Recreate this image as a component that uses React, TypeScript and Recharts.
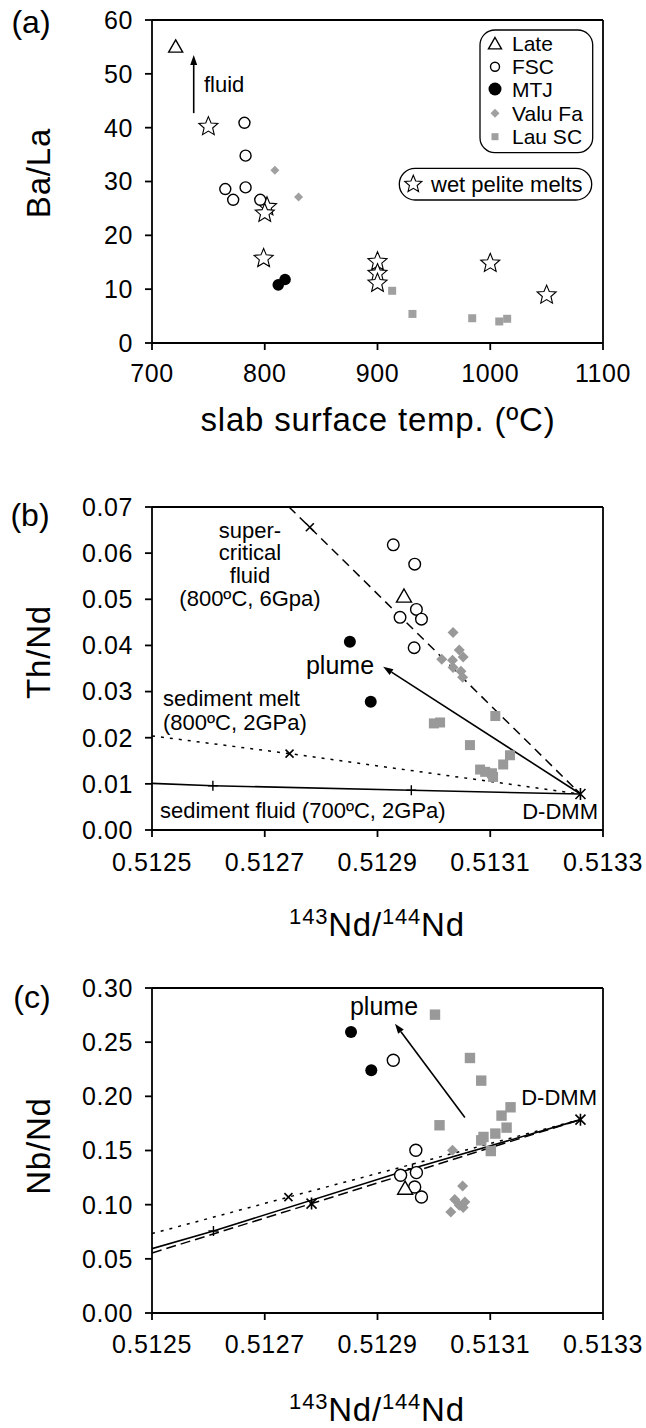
import { ReferenceLine, Scatter, ScatterChart, XAxis, YAxis } from "recharts";

const FONT = '"Liberation Sans", Arial, Helvetica, sans-serif';
const GREY = "#a0a0a0";

// ---- panel (a): Ba/La vs slab surface temperature ----
const tempTicks = [700, 800, 900, 1000, 1100];
const baLaTicks = [0, 10, 20, 30, 40, 50, 60];
const lateA = [{ x: 721, y: 55.0 }];
const fscA = [
	{ x: 782, y: 40.9 },
	{ x: 783, y: 34.8 },
	{ x: 765, y: 28.6 },
	{ x: 772, y: 26.6 },
	{ x: 783, y: 28.9 },
	{ x: 796, y: 26.6 },
];
const mtjA = [
	{ x: 812, y: 10.8 },
	{ x: 818, y: 11.8 },
];
const valuA = [
	{ x: 809, y: 32.1 },
	{ x: 830, y: 27.1 },
];
const lauA = [
	{ x: 913, y: 9.7 },
	{ x: 931, y: 5.4 },
	{ x: 984, y: 4.6 },
	{ x: 1008, y: 4.0 },
	{ x: 1015, y: 4.5 },
];
const peliteA = [
	{ x: 750, y: 40.2 },
	{ x: 802, y: 25.3 },
	{ x: 800, y: 24.1 },
	{ x: 799, y: 15.7 },
	{ x: 900, y: 15.1 },
	{ x: 900, y: 12.9 },
	{ x: 900, y: 11.1 },
	{ x: 1000, y: 14.8 },
	{ x: 1050, y: 8.9 },
];
const fluidArrowA = [
	{ x: 737, y: 42.7 },
	{ x: 737, y: 53.5 },
];

// ---- shared Nd isotope axis ----
const ndTicks = [0.5125, 0.5127, 0.5129, 0.5131, 0.5133];

// ---- panel (b): Th/Nd ----
const thNdTicks = [0, 0.01, 0.02, 0.03, 0.04, 0.05, 0.06, 0.07];
const lateB = [{ x: 0.512947, y: 0.0506 }];
const fscB = [
	{ x: 0.512928, y: 0.0618 },
	{ x: 0.512966, y: 0.0576 },
	{ x: 0.512969, y: 0.0478 },
	{ x: 0.51294, y: 0.0461 },
	{ x: 0.512978, y: 0.0457 },
	{ x: 0.512965, y: 0.0395 },
];
const mtjB = [
	{ x: 0.512851, y: 0.0408 },
	{ x: 0.512888, y: 0.0278 },
];
const valuB = [
	{ x: 0.513034, y: 0.0428 },
	{ x: 0.513014, y: 0.037 },
	{ x: 0.513033, y: 0.0368 },
	{ x: 0.513045, y: 0.039 },
	{ x: 0.513052, y: 0.0375 },
	{ x: 0.513034, y: 0.0352 },
	{ x: 0.513048, y: 0.0344 },
	{ x: 0.513051, y: 0.0331 },
];
const lauB = [
	{ x: 0.513109, y: 0.0247 },
	{ x: 0.513, y: 0.0231 },
	{ x: 0.513011, y: 0.0233 },
	{ x: 0.513064, y: 0.0184 },
	{ x: 0.513135, y: 0.0162 },
	{ x: 0.513123, y: 0.0142 },
	{ x: 0.513082, y: 0.0131 },
	{ x: 0.513091, y: 0.0126 },
	{ x: 0.513103, y: 0.0123 },
	{ x: 0.513105, y: 0.0115 },
];
const superFluidB = [
	{ x: 0.512743, y: 0.07 },
	{ x: 0.51278, y: 0.0656 },
	{ x: 0.51326, y: 0.0078 },
];
const sedMeltB = [
	{ x: 0.5125, y: 0.0204 },
	{ x: 0.512744, y: 0.01655 },
	{ x: 0.51326, y: 0.0078 },
];
const sedFluidB = [
	{ x: 0.5125, y: 0.0101 },
	{ x: 0.512608, y: 0.0096 },
	{ x: 0.51296, y: 0.0086 },
	{ x: 0.51326, y: 0.0078 },
];
const crossB = [
	{ x: 0.51278, y: 0.0656 },
	{ x: 0.512744, y: 0.01655 },
];
const plusB = [
	{ x: 0.512608, y: 0.0096 },
	{ x: 0.51296, y: 0.0086 },
];
const ddmmB = [{ x: 0.51326, y: 0.0078 }];
const plumeArrowB = [
	{ x: 0.51326, y: 0.0078 },
	{ x: 0.51291, y: 0.0354 },
];

// ---- panel (c): Nb/Nd ----
const nbNdTicks = [0, 0.05, 0.1, 0.15, 0.2, 0.25, 0.3];
const lateC = [{ x: 0.512949, y: 0.1148 }];
const fscC = [
	{ x: 0.512928, y: 0.2333 },
	{ x: 0.512968, y: 0.1502 },
	{ x: 0.512941, y: 0.1271 },
	{ x: 0.512969, y: 0.1296 },
	{ x: 0.512966, y: 0.1163 },
	{ x: 0.512978, y: 0.1071 },
];
const mtjC = [
	{ x: 0.512853, y: 0.2594 },
	{ x: 0.512889, y: 0.224 },
];
const valuC = [
	{ x: 0.513033, y: 0.1502 },
	{ x: 0.513051, y: 0.1173 },
	{ x: 0.513037, y: 0.1047 },
	{ x: 0.513055, y: 0.1025 },
	{ x: 0.51303, y: 0.0932 },
	{ x: 0.513052, y: 0.0973 },
	{ x: 0.513045, y: 0.0995 },
];
const lauC = [
	{ x: 0.513002, y: 0.2754 },
	{ x: 0.513064, y: 0.2354 },
	{ x: 0.513084, y: 0.2145 },
	{ x: 0.51301, y: 0.1733 },
	{ x: 0.513136, y: 0.1899 },
	{ x: 0.51312, y: 0.1822 },
	{ x: 0.513129, y: 0.1711 },
	{ x: 0.513088, y: 0.1625 },
	{ x: 0.513109, y: 0.1656 },
	{ x: 0.513084, y: 0.1594 },
	{ x: 0.513101, y: 0.1495 },
];
const sedMeltC = [
	{ x: 0.5125, y: 0.0733 },
	{ x: 0.512742, y: 0.107 },
	{ x: 0.51326, y: 0.1785 },
];
const sedFluidC = [
	{ x: 0.5125, y: 0.0594 },
	{ x: 0.512609, y: 0.0757 },
	{ x: 0.512962, y: 0.1333 },
	{ x: 0.51326, y: 0.1785 },
];
const superFluidC = [
	{ x: 0.5125, y: 0.0554 },
	{ x: 0.512783, y: 0.101 },
	{ x: 0.51326, y: 0.1785 },
];
const crossC = [{ x: 0.512742, y: 0.107 }];
const plusC = [
	{ x: 0.512609, y: 0.0757 },
	{ x: 0.512962, y: 0.1333 },
];
const asteriskC = [
	{ x: 0.512783, y: 0.101 },
	{ x: 0.51326, y: 0.1785 },
];
const plumeArrowC = [
	{ x: 0.513055, y: 0.1804 },
	{ x: 0.512931, y: 0.2671 },
];

// ---- marker shapes ----
const Empty = () => <g />;

const starPath = (cx: number, cy: number, R: number, r: number) => {
	let d = "";
	for (let i = 0; i < 10; i++) {
		const rad = i % 2 === 0 ? R : r;
		const a = -Math.PI / 2 + (i * Math.PI) / 5;
		d += (i ? "L" : "M") + (cx + rad * Math.cos(a)).toFixed(2) + "," + (cy + rad * Math.sin(a)).toFixed(2);
	}
	return d + "Z";
};

const triangle = (cx: number, cy: number, h = 7) => (
	<path
		d={`M${cx},${cy - h} L${cx + h},${cy + h * 0.75} L${cx - h},${cy + h * 0.75} Z`}
		fill="#fff"
		stroke="#000"
		strokeWidth={1.4}
	/>
);
const openCircle = (cx: number, cy: number, r: number) => (
	<circle cx={cx} cy={cy} r={r} fill="#fff" stroke="#000" strokeWidth={1.4} />
);
const dot = (cx: number, cy: number, r: number) => <circle cx={cx} cy={cy} r={r} fill="#000" />;
const diamond = (cx: number, cy: number, h: number, fill = GREY) => (
	<path d={`M${cx},${cy - h} L${cx + h},${cy} L${cx},${cy + h} L${cx - h},${cy} Z`} fill={fill} />
);
const square = (cx: number, cy: number, h: number, fill = GREY) => (
	<rect x={cx - h} y={cy - h} width={2 * h} height={2 * h} fill={fill} />
);
const star = (cx: number, cy: number, R = 10) => (
	<path d={starPath(cx, cy, R, R * 0.45)} fill="#fff" stroke="#000" strokeWidth={1.1} />
);
const cross = (cx: number, cy: number, h = 4) => (
	<path d={`M${cx - h},${cy - h}L${cx + h},${cy + h}M${cx - h},${cy + h}L${cx + h},${cy - h}`} stroke="#000" strokeWidth={1.6} />
);
const plus = (cx: number, cy: number, h = 5) => (
	<path d={`M${cx - h},${cy}L${cx + h},${cy}M${cx},${cy - h}L${cx},${cy + h}`} stroke="#000" strokeWidth={1.4} />
);
const asterisk = (cx: number, cy: number, h = 5) => (
	<path
		d={`M${cx - h},${cy - h}L${cx + h},${cy + h}M${cx - h},${cy + h}L${cx + h},${cy - h}M${cx},${cy - h - 1}L${cx},${cy + h + 1}`}
		stroke="#000"
		strokeWidth={1.6}
	/>
);

const sh = (fn: (cx: number, cy: number) => JSX.Element) => (p: any) => fn(p.cx, p.cy);

// arrow drawn along the scatter's joint line, head at the last point
const arrowLine = (p: any) => {
	const pts = p.points;
	if (!pts || pts.length < 2) return <g />;
	const a = pts[0];
	const b = pts[pts.length - 1];
	const ang = Math.atan2(b.y - a.y, b.x - a.x);
	const len = 10;
	const half = 3.5;
	const bx = b.x - len * Math.cos(ang);
	const by = b.y - len * Math.sin(ang);
	const nx = -Math.sin(ang) * half;
	const ny = Math.cos(ang) * half;
	return (
		<g>
			<line x1={a.x} y1={a.y} x2={bx} y2={by} stroke="#000" strokeWidth={1.6} />
			<path d={`M${b.x},${b.y}L${bx + nx},${by + ny}L${bx - nx},${by - ny}Z`} fill="#000" />
		</g>
	);
};

const tickStyle = { fontSize: 25, fill: "#000", fontFamily: FONT, letterSpacing: 0.6 };
const axisStroke = { stroke: "#000", strokeWidth: 1.8 };

function xAxis(domain: [number, number], ticks: number[], fmt: (v: number) => string, height: number, margin: number) {
	return (
		<XAxis
			type="number"
			dataKey="x"
			domain={domain}
			ticks={ticks}
			interval={0}
			allowDataOverflow
			tickFormatter={fmt}
			height={height}
			tickSize={7}
			tickMargin={margin}
			tick={tickStyle}
			tickLine={axisStroke}
			axisLine={axisStroke}
		/>
	);
}

function yAxis(domain: [number, number], ticks: number[], fmt: (v: number) => string) {
	return (
		<YAxis
			type="number"
			dataKey="y"
			domain={domain}
			ticks={ticks}
			interval={0}
			allowDataOverflow
			tickFormatter={fmt}
			width={152}
			tickSize={7}
			tickMargin={12}
			tick={tickStyle}
			tickLine={axisStroke}
			axisLine={axisStroke}
		/>
	);
}

const fmt0 = (v: number) => String(v);
const fmt2 = (v: number) => v.toFixed(2);
const fmt4 = (v: number) => v.toFixed(4);

function Overlay() {
	const t = { fontFamily: FONT, fill: "#000" };
	return (
		<svg width={646} height={1428} style={{ position: "absolute", left: 0, top: 0, pointerEvents: "none" }}>
			<g {...t}>
				{/* panel letters */}
				<text x={31} y={22} fontSize={32} textAnchor="middle" dominantBaseline="central">(a)</text>
				<text x={30} y={515} fontSize={32} textAnchor="middle" dominantBaseline="central">(b)</text>
				<text x={32} y={997} fontSize={32} textAnchor="middle" dominantBaseline="central">(c)</text>

				{/* axis titles */}
				<text transform="translate(38,173) rotate(-90)" fontSize={33} letterSpacing={0.8} textAnchor="middle" dominantBaseline="central">Ba/La</text>
				<text transform="translate(38,652) rotate(-90)" fontSize={33} letterSpacing={0.8} textAnchor="middle" dominantBaseline="central">Th/Nd</text>
				<text transform="translate(38,1146) rotate(-90)" fontSize={33} letterSpacing={0.8} textAnchor="middle" dominantBaseline="central">Nb/Nd</text>
				<text x={378} y={431} fontSize={33} letterSpacing={0.8} textAnchor="middle">slab surface temp. (ºC)</text>
				{[936, 1421].map((y) => (
					<text key={y} x={377} y={y} fontSize={33} letterSpacing={0.8} textAnchor="middle">
						<tspan fontSize={22} dy={-12}>143</tspan>
						<tspan dy={12}>Nd/</tspan>
						<tspan fontSize={22} dy={-12}>144</tspan>
						<tspan dy={12}>Nd</tspan>
					</text>
				))}

				{/* panel (a) annotations and legend */}
				<text x={204} y={84} fontSize={22} dominantBaseline="central">fluid</text>
				<rect x={480} y={30} width={112.7} height={122.7} rx={15} fill="none" stroke="#000" strokeWidth={1.3} />
				{triangle(495, 44, 6.5)}
				{openCircle(495, 66.7, 4.5)}
				{dot(495, 89, 6.5)}
				{diamond(495, 113.3, 4.5)}
				{square(495, 136.7, 3.5)}
				<text x={512} y={43.3} fontSize={21} dominantBaseline="central">Late</text>
				<text x={512} y={66.7} fontSize={21} dominantBaseline="central">FSC</text>
				<text x={512} y={89} fontSize={21} dominantBaseline="central">MTJ</text>
				<text x={512} y={113.3} fontSize={21} dominantBaseline="central">Valu Fa</text>
				<text x={512} y={136.7} fontSize={21} dominantBaseline="central">Lau SC</text>
				<rect x={399.3} y={168.3} width={192.4} height={31.7} rx={15.8} fill="none" stroke="#000" strokeWidth={1.3} />
				{star(413.3, 184.3, 9)}
				<text x={431} y={184.5} fontSize={22} dominantBaseline="central">wet pelite melts</text>

				{/* panel (b) annotations */}
				<text x={250} y={530} fontSize={22} textAnchor="middle" dominantBaseline="central">super-</text>
				<text x={250} y={552.5} fontSize={22} textAnchor="middle" dominantBaseline="central">critical</text>
				<text x={250} y={575} fontSize={22} textAnchor="middle" dominantBaseline="central">fluid</text>
				<text x={250} y={598} fontSize={22} textAnchor="middle" dominantBaseline="central">(800ºC, 6Gpa)</text>
				<text x={340} y={665} fontSize={25} textAnchor="middle" dominantBaseline="central">plume</text>
				<text x={163} y={698} fontSize={22} dominantBaseline="central">sediment melt</text>
				<text x={163} y={722} fontSize={22} dominantBaseline="central">(800ºC, 2GPa)</text>
				<text x={160} y={810} fontSize={22} dominantBaseline="central">sediment fluid (700ºC, 2GPa)</text>
				<text x={598} y={811} fontSize={22} textAnchor="end" dominantBaseline="central">D-DMM</text>

				{/* panel (c) annotations */}
				<text x={384} y={1006} fontSize={25} textAnchor="middle" dominantBaseline="central">plume</text>
				<text x={597} y={1097} fontSize={22} textAnchor="end" dominantBaseline="central">D-DMM</text>
			</g>
		</svg>
	);
}

export default function App() {
	return (
		<div style={{ position: "absolute", left: 0, top: 0, width: 646, height: 1428, background: "#fff", fontFamily: FONT }}>
			{/* (a) */}
			<div style={{ position: "absolute", left: 0, top: 0 }}>
				<ScatterChart width={646} height={420} margin={{ top: 20, right: 43, bottom: 0, left: 0 }}>
					{xAxis([700, 1100], tempTicks, fmt0, 77, 14)}
					{yAxis([0, 60], baLaTicks, fmt0)}
					<ReferenceLine y={60} {...axisStroke} />
					<ReferenceLine x={1100} {...axisStroke} />
					<Scatter data={fluidArrowA} line={arrowLine} shape={Empty} isAnimationActive={false} />
					<Scatter data={lateA} shape={sh((x, y) => triangle(x, y, 7))} isAnimationActive={false} />
					<Scatter data={peliteA} shape={sh((x, y) => star(x, y, 10))} isAnimationActive={false} />
					<Scatter data={fscA} shape={sh((x, y) => openCircle(x, y, 5.5))} isAnimationActive={false} />
					<Scatter data={mtjA} shape={sh((x, y) => dot(x, y, 5.8))} isAnimationActive={false} />
					<Scatter data={valuA} shape={sh((x, y) => diamond(x, y, 4.5))} isAnimationActive={false} />
					<Scatter data={lauA} shape={sh((x, y) => square(x, y, 4))} isAnimationActive={false} />
				</ScatterChart>
			</div>

			{/* (b) */}
			<div style={{ position: "absolute", left: 0, top: 440 }}>
				<ScatterChart width={646} height={460} margin={{ top: 67, right: 43, bottom: 0, left: 0 }}>
					{xAxis([0.5125, 0.5133], ndTicks, fmt4, 70, 16)}
					{yAxis([0, 0.07], thNdTicks, fmt2)}
					<ReferenceLine y={0.07} {...axisStroke} />
					<ReferenceLine x={0.5133} {...axisStroke} />
					<Scatter data={superFluidB} line={{ stroke: "#000", strokeWidth: 1.5, strokeDasharray: "9 6" }} shape={Empty} isAnimationActive={false} />
					<Scatter data={sedMeltB} line={{ stroke: "#000", strokeWidth: 1.5, strokeDasharray: "3 6" }} shape={Empty} isAnimationActive={false} />
					<Scatter data={sedFluidB} line={{ stroke: "#000", strokeWidth: 1.6 }} shape={Empty} isAnimationActive={false} />
					<Scatter data={plumeArrowB} line={arrowLine} shape={Empty} isAnimationActive={false} />
					<Scatter data={crossB} shape={sh((x, y) => cross(x, y, 4))} isAnimationActive={false} />
					<Scatter data={plusB} shape={sh((x, y) => plus(x, y, 5))} isAnimationActive={false} />
					<Scatter data={ddmmB} shape={sh((x, y) => asterisk(x, y, 5))} isAnimationActive={false} />
					<Scatter data={lauB} shape={sh((x, y) => square(x, y, 5, "#999"))} isAnimationActive={false} />
					<Scatter data={valuB} shape={sh((x, y) => diamond(x, y, 5.5, "#999"))} isAnimationActive={false} />
					<Scatter data={mtjB} shape={sh((x, y) => dot(x, y, 6))} isAnimationActive={false} />
					<Scatter data={fscB} shape={sh((x, y) => openCircle(x, y, 5.8))} isAnimationActive={false} />
					<Scatter data={lateB} shape={sh((x, y) => triangle(x, y, 7.5))} isAnimationActive={false} />
				</ScatterChart>
			</div>

			{/* (c) */}
			<div style={{ position: "absolute", left: 0, top: 940 }}>
				<ScatterChart width={646} height={440} margin={{ top: 48, right: 43, bottom: 0, left: 0 }}>
					{xAxis([0.5125, 0.5133], ndTicks, fmt4, 67, 15)}
					{yAxis([0, 0.3], nbNdTicks, fmt2)}
					<ReferenceLine y={0.3} {...axisStroke} />
					<ReferenceLine x={0.5133} {...axisStroke} />
					<Scatter data={sedMeltC} line={{ stroke: "#000", strokeWidth: 1.5, strokeDasharray: "3 6" }} shape={Empty} isAnimationActive={false} />
					<Scatter data={superFluidC} line={{ stroke: "#000", strokeWidth: 1.5, strokeDasharray: "10 5" }} shape={Empty} isAnimationActive={false} />
					<Scatter data={sedFluidC} line={{ stroke: "#000", strokeWidth: 1.6 }} shape={Empty} isAnimationActive={false} />
					<Scatter data={plumeArrowC} line={arrowLine} shape={Empty} isAnimationActive={false} />
					<Scatter data={crossC} shape={sh((x, y) => cross(x, y, 4))} isAnimationActive={false} />
					<Scatter data={plusC} shape={sh((x, y) => plus(x, y, 5))} isAnimationActive={false} />
					<Scatter data={asteriskC} shape={sh((x, y) => asterisk(x, y, 5))} isAnimationActive={false} />
					<Scatter data={lauC} shape={sh((x, y) => square(x, y, 5.2, "#999"))} isAnimationActive={false} />
					<Scatter data={valuC} shape={sh((x, y) => diamond(x, y, 5.5, "#999"))} isAnimationActive={false} />
					<Scatter data={mtjC} shape={sh((x, y) => dot(x, y, 6))} isAnimationActive={false} />
					<Scatter data={fscC} shape={sh((x, y) => openCircle(x, y, 6))} isAnimationActive={false} />
					<Scatter data={lateC} shape={sh((x, y) => triangle(x, y, 7.5))} isAnimationActive={false} />
				</ScatterChart>
			</div>

			<Overlay />
		</div>
	);
}
